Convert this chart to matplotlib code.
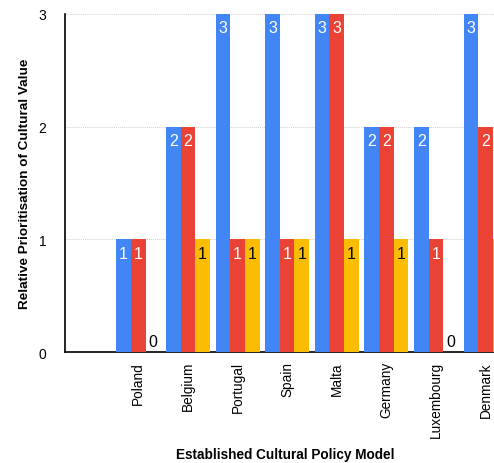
import numpy as np
import matplotlib
matplotlib.use("Agg")
import matplotlib.pyplot as plt

plt.rcParams['font.family'] = ['Liberation Sans', 'DejaVu Sans']

# first slot is an empty category in the original chart
countries = ['', 'Poland', 'Belgium', 'Portugal', 'Spain', 'Malta',
             'Germany', 'Luxembourg', 'Denmark']
series_a = [np.nan, 1, 2, 3, 3, 3, 2, 2, 3]
series_b = [np.nan, 1, 2, 1, 1, 3, 2, 1, 2]
series_c = [np.nan, 0, 1, 1, 1, 1, 1, 0, 1]

colors = ['#4285F4', '#EA4335', '#FBBC04']
label_colors = ['white', 'white', 'black']

fig = plt.figure(figsize=(4.94, 4.64), dpi=100)
ax = fig.add_axes([0.1306, 0.2392, 0.8694, 0.7285])

x = np.arange(len(countries))
w = 0.296
for k, (vals, c, lc) in enumerate(zip([series_a, series_b, series_c], colors, label_colors)):
    pos = x + (k - 1) * w
    ax.bar(pos, vals, width=w, color=c, zorder=3)
    for p, v in zip(pos, vals):
        if np.isnan(v) or p + w / 2 > 8.17:
            continue  # empty slot, or label falls outside the cropped area
        if v > 0:
            ax.text(p, v - 0.055, f'{int(v)}', ha='center', va='top',
                    color=lc, fontsize=11.5, zorder=4)
        else:
            ax.text(p, 0.03, '0', ha='center', va='bottom',
                    color='black', fontsize=11.5, zorder=4)

ax.set_xlim(-0.488, 8.17)
ax.set_ylim(0, 3)
ax.set_yticks([0, 1, 2, 3])
ax.set_xticks(x)
ax.set_xticklabels(countries, rotation=90, fontsize=9.8)
ax.tick_params(axis='x', length=0, pad=6.5)
ax.tick_params(axis='y', length=0, pad=13, labelsize=10)
ax.grid(axis='y', color='#cfcfcf', linestyle=(0, (1, 1)), linewidth=0.7, zorder=0)

for s in ['top', 'right']:
    ax.spines[s].set_visible(False)
ax.spines['left'].set_color('black')
ax.spines['bottom'].set_color('black')
ax.spines['left'].set_linewidth(1.2)
ax.spines['bottom'].set_linewidth(1.2)

fig.text(0.051, 0.6035, 'Relative Prioritisation of Cultural Value', rotation=90,
         ha='center', va='center', fontsize=9.7, fontweight='bold')
fig.text(0.578, 0.019, 'Established Cultural Policy Model',
         ha='center', va='center', fontsize=9.8, fontweight='bold')

fig.savefig('out.png', dpi=100)
